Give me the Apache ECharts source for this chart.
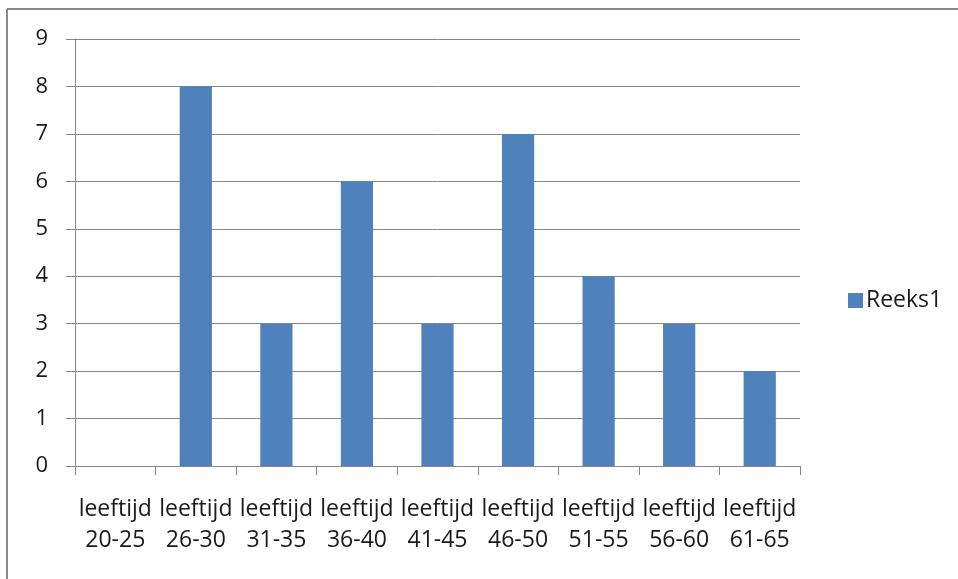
<!DOCTYPE html>
<html>
<head>
<meta charset="utf-8">
<script src="https://cdn.jsdelivr.net/npm/echarts@6/dist/echarts.min.js"></script>
<style>html,body{margin:0;padding:0;background:#fff;}#c{width:958px;height:579px;}</style>
</head>
<body>
<div id="c"></div>
<script>
const categories = ['leeftijd\n20-25','leeftijd\n26-30','leeftijd\n31-35','leeftijd\n36-40','leeftijd\n41-45','leeftijd\n46-50','leeftijd\n51-55','leeftijd\n56-60','leeftijd\n61-65'];
const seriesName = 'Reeks1';
const values = [0, 8, 3, 6, 3, 7, 4, 3, 2];
const yMin = 0, yMax = 9, yInterval = 1;

const chart = echarts.init(document.getElementById('c'), null, {renderer: 'canvas'});
const font = '"Open Sans", "Liberation Sans", sans-serif';
chart.setOption({
  animation: false,
  backgroundColor: '#ffffff',
  textStyle: {fontFamily: font},
  graphic: [
    {type: 'line', shape: {x1: 7, y1: 9, x2: 958, y2: 9}, style: {stroke: '#8a8a8a', lineWidth: 2}},
    {type: 'line', shape: {x1: 7, y1: 9, x2: 7, y2: 579}, style: {stroke: '#8a8a8a', lineWidth: 2}}
  ],
  grid: {left: 75, right: 158, top: 39, bottom: 113, containLabel: false},
  legend: {
    data: [seriesName], orient: 'vertical', left: 843, top: 284,
    itemWidth: 15, itemHeight: 15, itemGap: 10,
    icon: 'rect',
    textStyle: {fontSize: 23, color: '#1a1a1a', fontFamily: font, padding: [0,0,0,-2]}
  },
  xAxis: {
    type: 'category', data: categories,
    axisLine: {show: true, lineStyle: {color: '#868686', width: 1}},
    axisTick: {show: true, length: 9, alignWithLabel: false, lineStyle: {color: '#868686'}},
    axisLabel: {fontSize: 23, color: '#1a1a1a', lineHeight: 31, margin: 28, interval: 0, fontFamily: font},
    splitLine: {show: false}
  },
  yAxis: {
    type: 'value', min: yMin, max: yMax, interval: yInterval,
    axisLine: {show: true, lineStyle: {color: '#868686', width: 1}},
    axisTick: {show: true, length: 9, lineStyle: {color: '#868686'}},
    axisLabel: {fontSize: 22, color: '#1a1a1a', margin: 27, fontFamily: font},
    splitLine: {show: true, lineStyle: {color: '#868686', width: 1}}
  },
  series: [{
    name: seriesName, type: 'bar', data: values,
    barWidth: '40%',
    itemStyle: {color: '#4F81BD'}
  }]
});
</script>
</body>
</html>
